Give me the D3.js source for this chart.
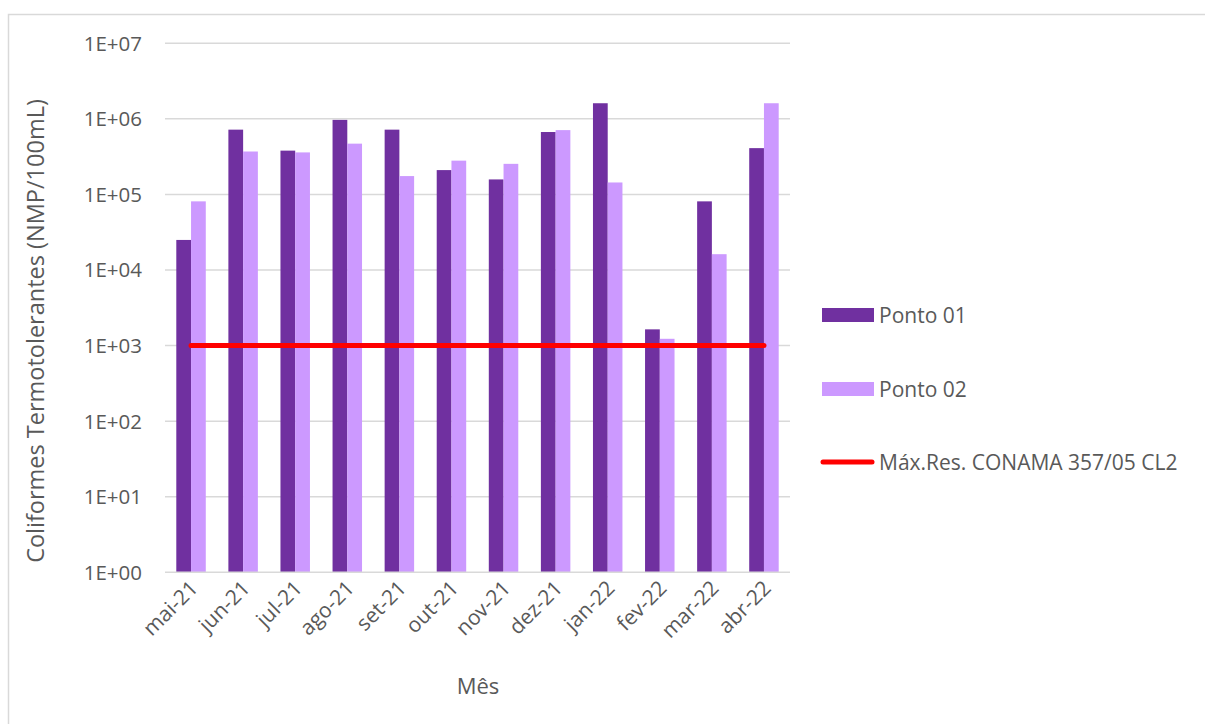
<!DOCTYPE html>
<html>
<head>
<meta charset="utf-8">
<script src="https://cdn.jsdelivr.net/npm/d3@7"></script>
<style>
  html, body { margin: 0; padding: 0; background: #fff; }
  svg { display: block; }
  text { font-family: "Open Sans", "Liberation Sans", sans-serif; fill: #595959; }
</style>
</head>
<body>
<svg id="chart" width="1205" height="724"></svg>
<script>
// Monthly thermotolerant coliform counts (NMP/100mL) at two sampling points
const months = ["mai-21","jun-21","jul-21","ago-21","set-21","out-21","nov-21","dez-21","jan-22","fev-22","mar-22","abr-22"];
const ponto01 = [25000, 720000, 380000, 970000, 720000, 210000, 158000, 670000, 1610000, 1640, 81000, 410000];
const ponto02 = [81000, 370000, 360000, 470000, 175000, 280000, 254000, 710000, 144000, 1230, 16200, 1610000];
const limite = [1000, 1000, 1000, 1000, 1000, 1000, 1000, 1000, 1000, 1000, 1000, 1000];
const yTicks = [1, 10, 100, 1000, 10000, 100000, 1000000, 10000000];
const seriesNames = ["Ponto 01", "Ponto 02", "Máx.Res. CONAMA 357/05 CL2"];
const colors = { p1: "#7030a0", p2: "#cc99ff", lim: "#ff0000" };

const svg = d3.select("#chart");

// outer chart frame
svg.append("rect")
  .attr("x", 8.5).attr("y", 14.5)
  .attr("width", 1205).attr("height", 720)
  .attr("fill", "none").attr("stroke", "#d9d9d9").attr("stroke-width", 1.5);

const plot = { left: 165, right: 790, top: 43.3, bottom: 572.3 };

const x = d3.scaleBand().domain(months).range([plot.left, plot.right]).padding(0);
const y = d3.scaleLog().domain([1, 1e7]).range([plot.bottom, plot.top]);

const bw = x.bandwidth();
const barW = bw * 0.283;

// horizontal gridlines
svg.append("g").selectAll("line").data(yTicks.slice(1)).join("line")
  .attr("x1", plot.left).attr("x2", plot.right)
  .attr("y1", d => y(d)).attr("y2", d => y(d))
  .attr("stroke", "#d9d9d9").attr("stroke-width", 1.5);

// y tick labels
const expFmt = d => "1E+" + String(Math.round(Math.log10(d))).padStart(2, "0");
svg.append("g").selectAll("text").data(yTicks).join("text")
  .attr("x", 142).attr("y", d => y(d))
  .attr("dy", "0.36em")
  .attr("text-anchor", "end")
  .attr("font-size", 20.5)
  .text(expFmt);

// bars
const bars = svg.append("g");
bars.selectAll("rect.p1").data(months).join("rect")
  .attr("class", "p1")
  .attr("x", d => x(d) + bw / 2 - barW)
  .attr("width", barW)
  .attr("y", (d, i) => y(ponto01[i]))
  .attr("height", (d, i) => y(1) - y(ponto01[i]))
  .attr("fill", colors.p1);
bars.selectAll("rect.p2").data(months).join("rect")
  .attr("class", "p2")
  .attr("x", d => x(d) + bw / 2)
  .attr("width", barW)
  .attr("y", (d, i) => y(ponto02[i]))
  .attr("height", (d, i) => y(1) - y(ponto02[i]))
  .attr("fill", colors.p2);

// x axis baseline
svg.append("line")
  .attr("x1", plot.left).attr("x2", plot.right)
  .attr("y1", y(1)).attr("y2", y(1))
  .attr("stroke", "#d9d9d9").attr("stroke-width", 1.5);

// limit line
const line = d3.line().x((d, i) => x(months[i]) + bw / 2).y(d => y(d));
svg.append("path")
  .datum(limite)
  .attr("d", line)
  .attr("fill", "none")
  .attr("stroke", colors.lim)
  .attr("stroke-width", 5)
  .attr("stroke-linecap", "round");

// category labels, rotated
svg.append("g").selectAll("text").data(months).join("text")
  .attr("transform", d => `translate(${x(d) + bw / 2 + 3},${plot.bottom + 12}) rotate(-45)`)
  .attr("text-anchor", "end")
  .attr("dy", "0.35em")
  .attr("font-size", 21)
  .text(d => d);

// axis titles
svg.append("text")
  .attr("x", 478).attr("y", 694)
  .attr("text-anchor", "middle")
  .attr("font-size", 22)
  .text("Mês");

svg.append("text")
  .attr("transform", "translate(44,331) rotate(-90)")
  .attr("text-anchor", "middle")
  .attr("font-size", 23.5)
  .text("Coliformes Termotolerantes (NMP/100mL)");

// legend
const legend = svg.append("g");
const legY = [315, 389, 462];
legend.append("rect").attr("x", 822).attr("y", legY[0] - 7).attr("width", 52).attr("height", 14).attr("fill", colors.p1);
legend.append("rect").attr("x", 822).attr("y", legY[1] - 7).attr("width", 52).attr("height", 14).attr("fill", colors.p2);
legend.append("line").attr("x1", 823).attr("x2", 872).attr("y1", legY[2]).attr("y2", legY[2])
  .attr("stroke", colors.lim).attr("stroke-width", 5).attr("stroke-linecap", "round");
legend.selectAll("text").data(seriesNames).join("text")
  .attr("x", 879).attr("y", (d, i) => legY[i])
  .attr("dy", "0.36em")
  .attr("font-size", 21)
  .text(d => d);
</script>
</body>
</html>
